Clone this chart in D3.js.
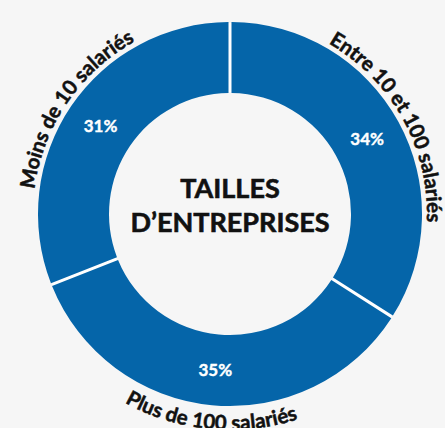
<!DOCTYPE html>
<html>
<head>
<meta charset="utf-8">
<script src="https://cdn.jsdelivr.net/npm/d3@7"></script>
<style>
  html, body { margin: 0; padding: 0; background: #f6f6f6; }
  svg { display: block; }
  text { font-family: Lato, "Open Sans", sans-serif; font-weight: 700; }
</style>
</head>
<body>
<svg id="chart"></svg>
<script>
// data
var categories = ["Entre 10 et 100 salariés", "Plus de 100 salariés", "Moins de 10 salariés"];
var shares = [34, 35, 31];
var titleLines = ["TAILLES", "D\u2019ENTREPRISES"];

var width = 445, height = 428;
var cx = 230, cy = 214;
var outerR = 192, innerR = 121;

var svg = d3.select("#chart")
    .attr("width", width)
    .attr("height", height);

var defs = svg.append("defs");

var g = svg.append("g")
    .attr("transform", "translate(" + cx + "," + cy + ")");

var pie = d3.pie()
    .sort(null)
    .value(function(d) { return d; });

var arcs = pie(shares);

var arc = d3.arc()
    .innerRadius(innerR)
    .outerRadius(outerR)
    .padRadius(outerR)
    .padAngle(3 / outerR);

// white ring behind, so the gaps read as white lines
g.append("path")
    .attr("fill", "#fff")
    .attr("d", d3.arc().innerRadius(innerR + 1).outerRadius(outerR - 1)
        .startAngle(0).endAngle(2 * Math.PI)());

g.selectAll("path.slice")
    .data(arcs)
    .enter().append("path")
    .attr("class", "slice")
    .attr("fill", "#0565a9")
    .attr("d", arc);

// percentages
var labelArc = d3.arc().innerRadius(innerR).outerRadius(outerR);
g.selectAll("text.pct")
    .data(arcs)
    .enter().append("text")
    .attr("class", "pct")
    .attr("transform", function(d) { return "translate(" + labelArc.centroid(d) + ")"; })
    .attr("text-anchor", "middle")
    .attr("dy", "0.36em")
    .attr("fill", "#fff")
    .attr("stroke", "#fff")
    .attr("stroke-width", 0.4)
    .style("font-size", "17px")
    .text(function(d) { return d.data + "%"; });

// curved category names around the ring
function pt(r, a) { return [r * Math.sin(a), -r * Math.cos(a)]; }

var span = 85 * Math.PI / 180;
arcs.forEach(function(d, i) {
    var mid = (d.startAngle + d.endAngle) / 2;
    var bottom = mid > Math.PI / 2 && mid < 3 * Math.PI / 2;
    var r, p0, p1, sweep;
    if (bottom) {
        r = outerR + 24;
        p0 = pt(r, mid + span); p1 = pt(r, mid - span); sweep = 0;
    } else {
        r = outerR + 5;
        p0 = pt(r, mid - span); p1 = pt(r, mid + span); sweep = 1;
    }
    defs.append("path")
        .attr("id", "lab" + i)
        .attr("d", "M" + p0[0] + "," + p0[1] + " A" + r + "," + r + " 0 0 " + sweep + " " + p1[0] + "," + p1[1]);

    g.append("text")
        .attr("fill", "#111")
        .attr("stroke", "#111")
        .attr("stroke-width", 0.5)
        .style("font-size", "20.5px")
        .append("textPath")
        .attr("href", "#lab" + i)
        .attr("startOffset", "50%")
        .attr("text-anchor", "middle")
        .text(categories[i]);
});

// centre title
g.selectAll("text.title")
    .data(titleLines)
    .enter().append("text")
    .attr("class", "title")
    .attr("text-anchor", "middle")
    .attr("y", function(d, i) { return -16 + i * 34; })
    .attr("fill", "#111")
    .attr("stroke", "#111")
    .attr("stroke-width", 0.6)
    .style("font-size", "27px")
    .text(function(d) { return d; });
</script>
</body>
</html>
